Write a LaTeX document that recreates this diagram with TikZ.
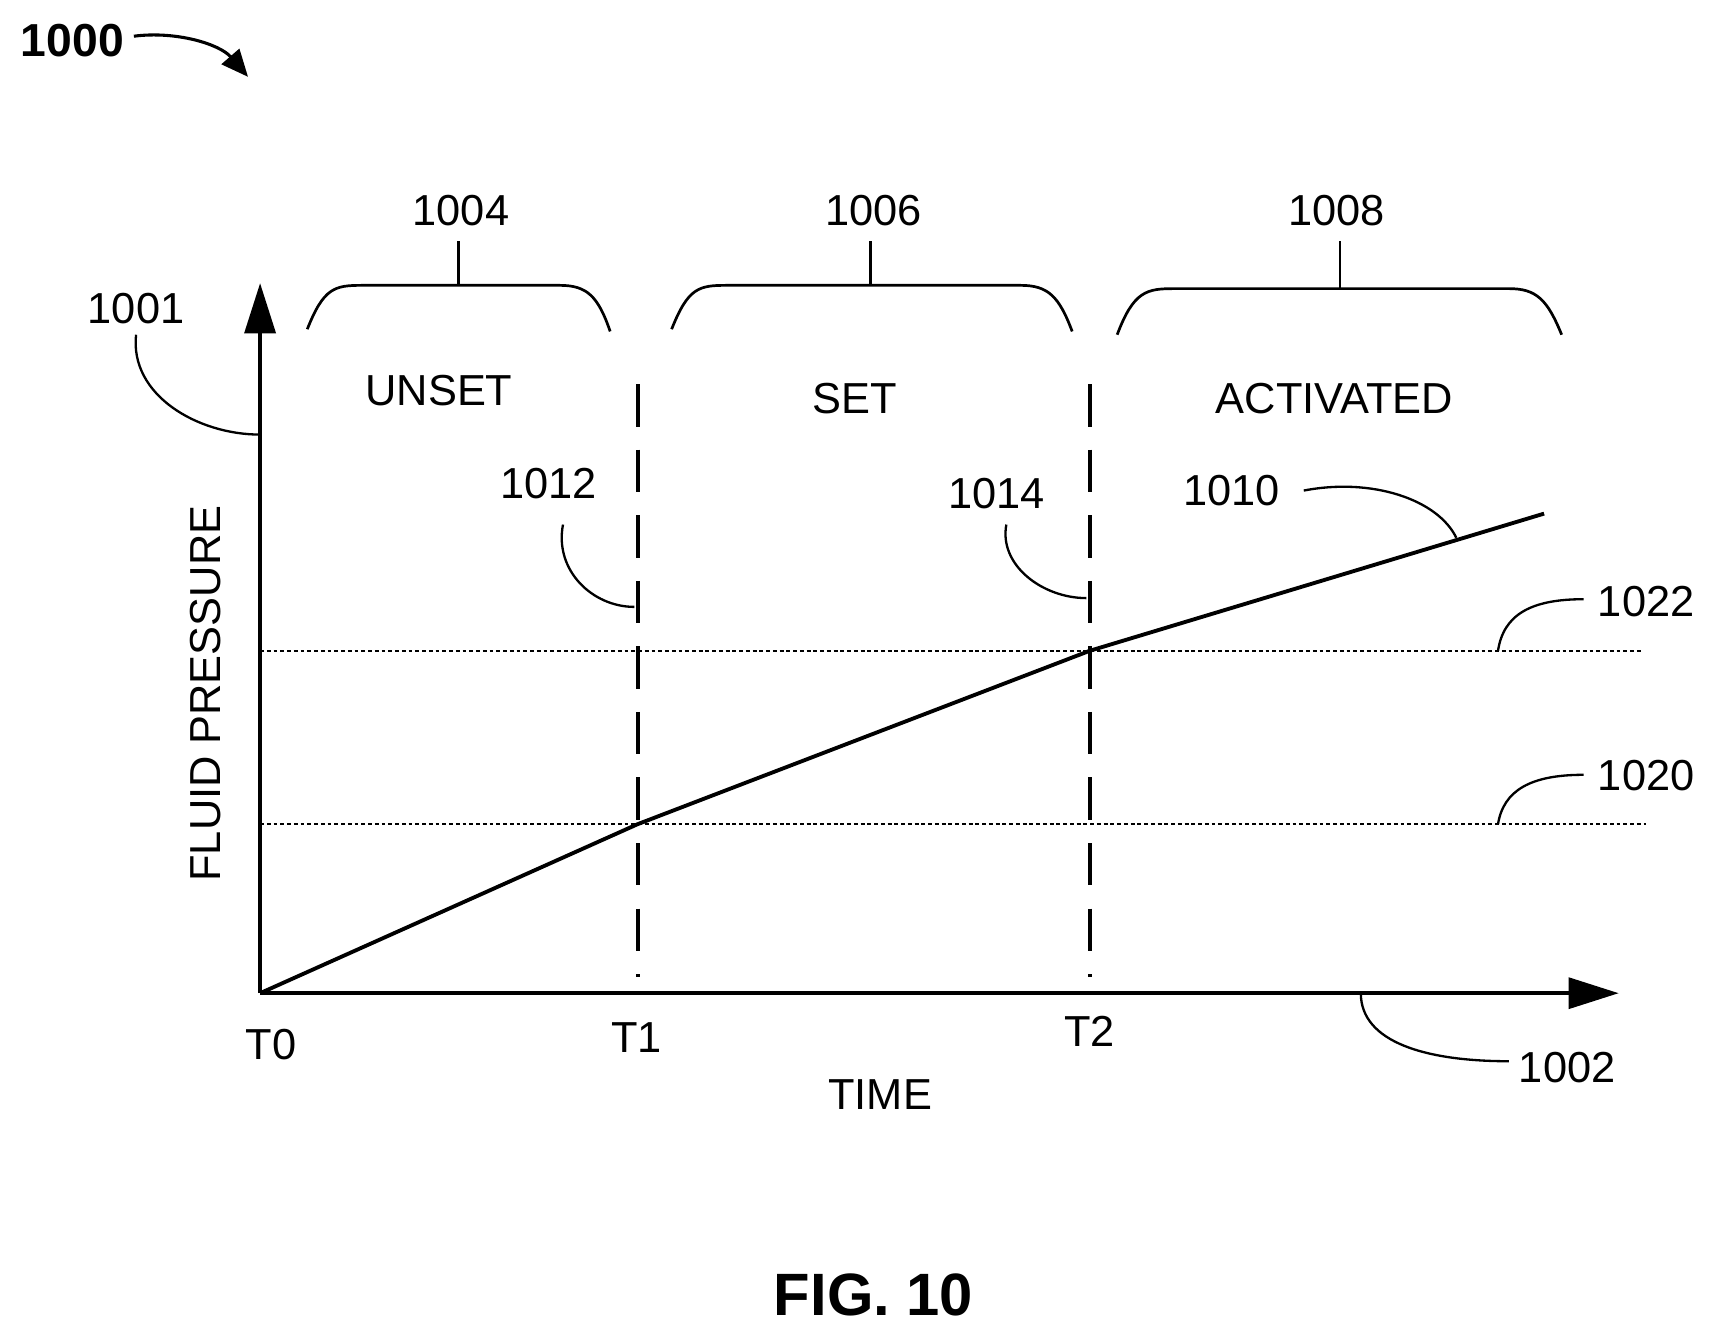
\documentclass[tikz,border=0pt]{standalone}
\usepackage{fontspec}
\setmainfont{Liberation Sans}
\usetikzlibrary{arrows.meta}
\tikzset{
  lbl/.style={font=\fontsize{22.5}{24}\selectfont, inner sep=1pt},
  lead/.style={line width=1.2pt},
  brace/.style={line width=1.4pt},
  axis/.style={line width=2pt, -{Triangle[length=26pt,width=16pt]}},
  thresh/.style={line width=1pt, dash pattern=on 2pt off 1.5pt},
  tmark/.style={line width=2pt, dash pattern=on 22pt off 12pt},
}
\begin{document}
\begin{tikzpicture}[x=0.02cm, y=-0.02cm]
  \useasboundingbox (0,0) rectangle (1560,1211);
  % axes
  \coordinate (O) at (237,905);
  \coordinate (ytop) at (237,258);
  \coordinate (xend) at (1475,905);
  \draw[axis] (O) -- (ytop);
  \draw[axis] (O) -- (xend);
  \node[lbl] (t0) at (247,952) {T0};
  \node[lbl] (t1) at (580,945) {T1};
  \node[lbl] (t2) at (993,940) {T2};
  \node[lbl] (time) at (802,997) {TIME};
  \node[lbl, rotate=90] (fp) at (187,632) {FLUID PRESSURE};
  % thresholds
  \draw[thresh] (237,593) -- (1495,593);
  \draw[thresh] (237,751) -- (1500,751);
  % times
  \draw[tmark] (581,350) -- (581,890);
  \draw[tmark] (993,350) -- (993,890);
  % pressure curve
  \coordinate (p1) at (581,751);
  \coordinate (p2) at (993,593);
  \coordinate (p3) at (1407,468);
  \draw[line width=2pt] (O) -- (p1) -- (p2) -- (p3);
  % braces
  \draw[brace] (280,300) .. controls (295,262) and (305,260) .. (330,260) -- (510,260)
     .. controls (535,260) and (545,270) .. (556,302);
  \draw[brace] (418,260) -- (418,220);
  \draw[brace] (612,300) .. controls (627,262) and (637,260) .. (662,260) -- (930,260)
     .. controls (955,260) and (965,270) .. (977,302);
  \draw[brace] (793,260) -- (793,220);
  \draw[brace] (1018,305) .. controls (1033,265) and (1045,263) .. (1070,263) -- (1375,263)
     .. controls (1400,263) and (1410,273) .. (1423,305);
  \draw[brace] (1221,263) -- (1221,220);
  \node[lbl] (n1004) at (420,192) {1004};
  \node[lbl] (n1006) at (796,192) {1006};
  \node[lbl] (n1008) at (1218,192) {1008};
  \node[lbl] (unset) at (400,356) {UNSET};
  \node[lbl] (set) at (779,363) {SET};
  \node[lbl] (act) at (1216,363) {ACTIVATED};
  % reference labels
  \node[lbl] (n1001) at (124,281) {1001};
  \draw[lead] (124,305) .. controls (118,360) and (180,396) .. (237,396);
  \node[lbl] (n1012) at (500,441) {1012};
  \draw[lead] (513,478) .. controls (505,520) and (540,553) .. (578,553);
  \node[lbl] (n1014) at (908,450) {1014};
  \draw[lead] (917,478) .. controls (910,515) and (950,545) .. (990,545);
  \node[lbl] (n1010) at (1122,447) {1010};
  \draw[lead] (1188,447) .. controls (1250,435) and (1310,455) .. (1327,490);
  \node[lbl] (n1022) at (1500,548) {1022};
  \draw[lead] (1443,546) .. controls (1395,546) and (1370,560) .. (1365,593);
  \node[lbl] (n1020) at (1500,707) {1020};
  \draw[lead] (1443,706) .. controls (1395,706) and (1370,720) .. (1365,751);
  \node[lbl] (n1002) at (1428,973) {1002};
  \draw[lead] (1375,967) .. controls (1300,967) and (1240,950) .. (1240,905);
  % figure number
  \node[font=\bfseries\fontsize{24}{26}\selectfont] (n1000) at (66,37) {1000};
  \draw[lead, line width=1.6pt, -{Triangle[length=14pt,width=12pt]}] (122,33) .. controls (160,28) and (200,40) .. (226,70);
  \node[font=\bfseries\fontsize{31}{33}\selectfont] (fig) at (796,1180) {FIG. 10};
\end{tikzpicture}
\end{document}
